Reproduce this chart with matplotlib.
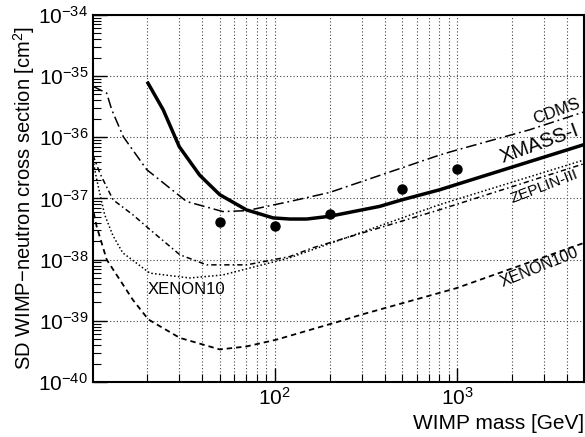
import matplotlib
matplotlib.use('Agg')
import matplotlib.pyplot as plt
from matplotlib.ticker import FixedLocator, NullFormatter

plt.rcParams['font.family'] = ['Liberation Sans', 'DejaVu Sans']
plt.rcParams['mathtext.fontset'] = 'custom'
plt.rcParams['mathtext.rm'] = 'Liberation Sans'
plt.rcParams['axes.unicode_minus'] = False

# limits (GeV, cm^2)
xmass_m = [20, 24.5, 30, 38.8, 50, 70, 98, 121, 150, 200, 376, 500, 800, 4980]
xmass_s = [8.1e-36, 2.8e-36, 7.0e-37, 2.4e-37, 1.15e-37, 6.5e-38, 4.8e-38, 4.6e-38,
           4.6e-38, 5.1e-38, 7.4e-38, 9.5e-38, 1.38e-37, 7.6e-37]

cdms_m = [10.09, 12.0, 12.8, 14.8, 19.9, 32.9, 51.9, 70.3, 121, 200, 800, 1000, 2490, 4980]
cdms_s = [6.8e-36, 5.25e-36, 2.8e-36, 1.02e-36, 2.95e-37, 8.9e-38, 6.1e-38, 6.3e-38,
          8.9e-38, 1.25e-37, 5.1e-37, 6.2e-37, 1.32e-36, 2.6e-36]

zeplin_m = [10.09, 11.0, 13.0, 16.7, 20.7, 30.2, 42.4, 70.3, 121, 161, 800, 4980]
zeplin_s = [5.1e-37, 2.6e-37, 9.5e-38, 5.4e-38, 3.1e-38, 1.2e-38, 8.2e-39, 8.2e-39,
            1.12e-38, 1.55e-38, 6.5e-38, 3.7e-37]

xenon10_m = [10.09, 10.6, 11.2, 11.7, 13.0, 14.7, 20.7, 34.3, 51.9, 121, 800, 4980]
xenon10_s = [4.26e-37, 2.0e-37, 9.5e-38, 5.4e-38, 2.45e-38, 1.29e-38, 6.0e-39, 5.0e-39,
             5.6e-39, 1.07e-38, 7.9e-38, 4.26e-37]

xenon100_m = [10.2, 10.57, 12.0, 16.7, 20.3, 30.2, 50, 70, 102, 227, 299, 988, 4980]
xenon100_s = [5.8e-38, 3.5e-38, 1.0e-38, 2.2e-39, 1.05e-39, 5.25e-40, 3.4e-40, 3.8e-40,
              4.9e-40, 9.8e-40, 1.26e-39, 3.4e-39, 1.88e-38]

pts_m = [50, 100, 200, 500, 1000]
pts_s = [4.15e-38, 3.5e-38, 5.6e-38, 1.4e-37, 3.0e-37]

y_decades = [-40, -39, -38, -37, -36, -35, -34]
x_decades = [2, 3]

fig = plt.figure(figsize=(5.85, 4.37), dpi=100)
ax = fig.add_axes([0.159, 0.126, 0.839, 0.840])

ax.plot(cdms_m, cdms_s, color='black', lw=1.1, dashes=(7, 2.5, 1.2, 2.5))
ax.plot(zeplin_m, zeplin_s, color='black', lw=1.1, dashes=(3.5, 2, 1, 2))
ax.plot(xenon10_m, xenon10_s, color='black', lw=1.1, dashes=(1, 1.5))
ax.plot(xenon100_m, xenon100_s, color='black', lw=1.3, dashes=(3, 2.2))
ax.plot(xmass_m, xmass_s, color='black', lw=2.5, solid_capstyle='butt')
ax.plot(pts_m, pts_s, 'o', color='black', ms=6.5)

ax.set_xscale('log')
ax.set_yscale('log')
ax.set_xlim(10.1, 4950)
ax.set_ylim(1e-40, 1e-34)

ax.yaxis.set_major_locator(FixedLocator([10.0 ** d for d in y_decades]))
ax.yaxis.set_minor_locator(FixedLocator([k * 10.0 ** d for d in y_decades[:-1] for k in range(2, 10)]))
ax.xaxis.set_major_locator(FixedLocator([10.0 ** d for d in x_decades]))
ax.xaxis.set_minor_locator(FixedLocator([k * 10.0 ** d for d in [1, 2, 3] for k in range(2, 10)
                                         if k * 10.0 ** d < 4950]))
ax.yaxis.set_minor_formatter(NullFormatter())
ax.xaxis.set_minor_formatter(NullFormatter())

ax.grid(True, which='major', axis='both', color='#444444', linestyle=(0, (1, 2)), lw=0.8)
ax.grid(True, which='minor', axis='x', color='#444444', linestyle=(0, (1, 2)), lw=0.8)

ax.tick_params(which='both', direction='in', top=False, right=False, labelsize=15)
ax.tick_params(which='major', length=10, width=1)
ax.tick_params(which='minor', length=6, width=0.8)
for s in ax.spines.values():
    s.set_linewidth(1.5)

ax.set_xlabel('WIMP mass [GeV]', fontsize=15, loc='right', labelpad=4)
ax.set_ylabel('SD WIMP\u2212neutron cross section [cm$^2$]', fontsize=14.5, labelpad=1)

ax.text(3490, 2.6e-36, 'CDMS', fontsize=12, rotation=20, ha='center', va='center')
ax.text(2820, 7.8e-37, 'XMASS-I', fontsize=14.5, rotation=20, ha='center', va='center')
ax.text(3000, 1.55e-37, 'ZEPLIN-III', fontsize=11, rotation=21, ha='center', va='center')
ax.text(2820, 7.6e-39, 'XENON100', fontsize=11.5, rotation=22, ha='center', va='center')
ax.text(33, 3.3e-39, 'XENON10', fontsize=12, ha='center', va='center')

fig.savefig('out.png', dpi=100)
